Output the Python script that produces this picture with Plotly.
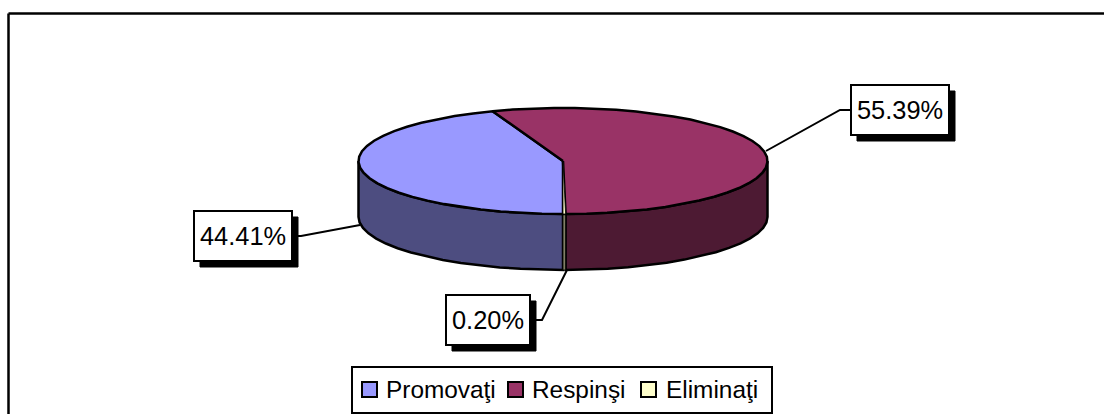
import numpy as np
import plotly.graph_objects as go

# ---- data ----
categories = ["Promovaţi", "Respinşi", "Eliminaţi"]
percent_values = [44.41, 55.39, 0.20]
top_colors = ["#9999FF", "#993366", "#FFFFCC"]
side_colors = ["#4D4D80", "#4D1A33", "#808066"]

# ---- layout constants (pixels) ----
W, H = 1104, 414
CX, CY, RX, RY, DEPTH = 563.0, 161.0, 204.5, 53.0, 56.0
STEP = 6.0
FONT = "Liberation Sans"
FS_LABEL = 25.4
FS_LEGEND = 24.4
OUTLINE = [2.5, 2.5, 0.8]
label_boxes = [(194, 211, 292, 261), (851, 85, 949, 135), (446, 295, 530, 345)]
SHADOW = 6
leaders = [
    ([292, 301, 360], [236, 236, 225]),
    ([851, 840, 766], [110, 110, 151]),
    ([530, 542, 567], [320, 320, 270]),
]
legend_box = (352, 367, 772, 413)
legend_swatches = [362, 508, 641]
legend_texts = [383.5, 529.5, 663.5]
SW = 15
LEG_Y = 389.5


def arc(a0, a1):
    """Points on the rim, angle measured clockwise from the front of the pie."""
    n = max(int(np.ceil(abs(a1 - a0) / STEP)), 1)
    t = np.radians(np.linspace(a0, a1, n + 1))
    return CX - RX * np.sin(t), CY + RY * np.cos(t)


fig = go.Figure()


def poly(x, y, color, width):
    fig.add_trace(go.Scatter(
        x=np.round(x, 1), y=np.round(y, 1), mode="lines", fill="toself", fillcolor=color,
        line=dict(color="black", width=width), hoverinfo="skip", showlegend=False))


edges = np.concatenate([[0.0], np.cumsum(percent_values) / sum(percent_values) * 360.0])

# side walls: only the front half of the rim is visible
for i in range(len(percent_values)):
    for lo, hi in ((0.0, 90.0), (270.0, 360.0)):
        a0, a1 = max(edges[i], lo), min(edges[i + 1], hi)
        if a1 > a0:
            x, y = arc(a0, a1)
            poly(np.r_[x, x[::-1], x[0]], np.r_[y, y[::-1] + DEPTH, y[0]], side_colors[i], OUTLINE[i])

# top faces
for i in range(len(percent_values)):
    x, y = arc(edges[i], edges[i + 1])
    poly(np.r_[CX, x, CX], np.r_[CY, y, CY], top_colors[i], OUTLINE[i])

# leader lines
for lx, ly in leaders:
    fig.add_trace(go.Scatter(x=lx, y=ly, mode="lines", line=dict(color="black", width=2),
                             hoverinfo="skip", showlegend=False))

shapes = [
    dict(type="line", x0=8.5, x1=W, y0=13.5, y1=13.5, line=dict(color="black", width=2.5)),
    dict(type="line", x0=8.5, x1=8.5, y0=13.5, y1=H, line=dict(color="black", width=2.5)),
]
annotations = []
for box, v in zip(label_boxes, percent_values):
    x0, y0, x1, y1 = box
    shapes.append(dict(type="rect", x0=x0 + SHADOW, x1=x1 + SHADOW, y0=y0 + SHADOW, y1=y1 + SHADOW,
                       fillcolor="black", line=dict(color="black", width=1)))
    shapes.append(dict(type="rect", x0=x0, x1=x1, y0=y0, y1=y1, fillcolor="white",
                       line=dict(color="black", width=2)))
    annotations.append(dict(x=(x0 + x1) / 2, y=(y0 + y1) / 2, text=f"{v:.2f}%", showarrow=False,
                            font=dict(family=FONT, size=FS_LABEL, color="black"),
                            xanchor="center", yanchor="middle"))

# legend
lx0, ly0, lx1, ly1 = legend_box
shapes.append(dict(type="rect", x0=lx0, x1=lx1, y0=ly0, y1=ly1, fillcolor="white",
                   line=dict(color="black", width=2)))
for name, color, sx, tx in zip(categories, top_colors, legend_swatches, legend_texts):
    shapes.append(dict(type="rect", x0=sx, x1=sx + SW, y0=LEG_Y - SW / 2, y1=LEG_Y + SW / 2,
                       fillcolor=color, line=dict(color="black", width=2)))
    annotations.append(dict(x=tx, y=LEG_Y, text=name, showarrow=False, xanchor="left", yanchor="middle",
                            font=dict(family=FONT, size=FS_LEGEND, color="black")))

fig.update_layout(
    width=W, height=H, margin=dict(l=0, r=0, t=0, b=0), autosize=False,
    paper_bgcolor="white", plot_bgcolor="white", showlegend=False,
    xaxis=dict(range=[0, W], visible=False, fixedrange=True),
    yaxis=dict(range=[H, 0], visible=False, fixedrange=True),
    shapes=shapes, annotations=annotations,
)
fig.write_html("out.html", config=dict(displayModeBar=False),
               post_script="document.body.style.margin='0';document.body.style.overflow='hidden';")
